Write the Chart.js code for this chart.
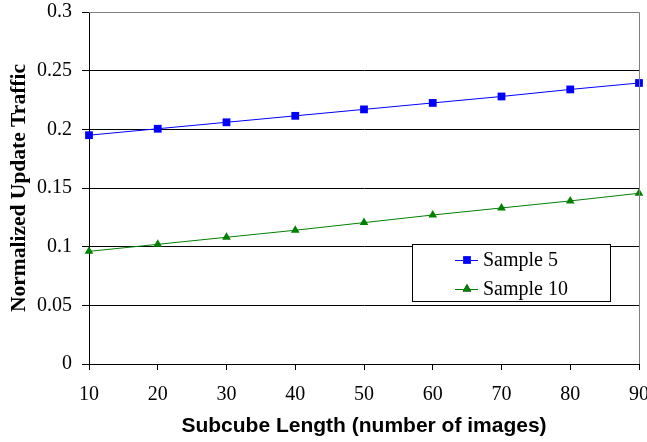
<!DOCTYPE html>
<html>
<head>
<meta charset="utf-8">
<script src="https://cdn.jsdelivr.net/npm/chart.js@4.4.0/dist/chart.umd.min.js"></script>
<style>
  body { margin: 0; background: #fff; }
  #wrap { width: 647px; height: 442px; }
</style>
</head>
<body>
<div id="wrap"><canvas id="grafico" width="647" height="442"></canvas></div>
<script>
// Datos
const subcubeLength = [10, 20, 30, 40, 50, 60, 70, 80, 90];
const sample5 = [0.195, 0.2005, 0.206, 0.2115, 0.217, 0.2225, 0.228, 0.234, 0.2395];
const sample10 = [0.096, 0.102, 0.108, 0.114, 0.1205, 0.127, 0.133, 0.139, 0.1455];
const seriesLabels = ['Sample 5', 'Sample 10'];

const serif = '"Liberation Serif", "Times New Roman", serif';
const sans = '"Liberation Sans", Arial, sans-serif';

// Borde gris arriba y a la derecha + leyenda dentro del area
const marcoYLeyenda = {
    id: 'marcoYLeyenda',
    afterDraw(chart) {
        const ctx = chart.ctx;
        const a = chart.chartArea;
        ctx.save();
        ctx.strokeStyle = '#808080';
        ctx.lineWidth = 1;
        ctx.beginPath();
        ctx.moveTo(a.left, a.top + 0.5);
        ctx.lineTo(a.right + 0.5, a.top + 0.5);
        ctx.lineTo(a.right + 0.5, a.bottom);
        ctx.stroke();

        // leyenda
        const bx = a.right - 227, by = 244, bw = 198, bh = 57;
        ctx.fillStyle = '#fff';
        ctx.fillRect(bx, by, bw, bh);
        ctx.strokeStyle = '#000';
        ctx.strokeRect(bx + 0.5, by + 0.5, bw, bh);
        ctx.font = '20px ' + serif;
        ctx.textBaseline = 'middle';
        chart.data.datasets.forEach((ds, i) => {
            const y = by + 16 + i * 29;
            ctx.strokeStyle = ds.borderColor;
            ctx.beginPath();
            ctx.moveTo(bx + 43, y + 0.5);
            ctx.lineTo(bx + 66, y + 0.5);
            ctx.stroke();
            Chart.helpers.drawPoint(ctx, {
                pointStyle: ds.pointStyle,
                radius: ds.pointRadius,
                borderWidth: 0
            }, bx + 55, y);
            ctx.fillStyle = ds.pointBackgroundColor;
            ctx.fill();
            ctx.fillStyle = '#000';
            ctx.fillText(ds.label, bx + 71, y + 1);
        });
        ctx.restore();
    }
};

const ctx = document.getElementById('grafico').getContext('2d');
new Chart(ctx, {
    type: 'line',
    data: {
        labels: subcubeLength,
        datasets: [{
            label: seriesLabels[0],
            data: subcubeLength.map((x, i) => ({ x: x, y: sample5[i] })),
            borderColor: '#0000ff',
            backgroundColor: '#0000ff',
            pointBackgroundColor: '#0000ff',
            pointBorderWidth: 0,
            borderWidth: 1,
            pointStyle: 'rect',
            pointRadius: 5.5,
            clip: false
        }, {
            label: seriesLabels[1],
            data: subcubeLength.map((x, i) => ({ x: x, y: sample10[i] })),
            borderColor: '#008000',
            backgroundColor: '#008000',
            pointBackgroundColor: '#008000',
            pointBorderWidth: 0,
            borderWidth: 1,
            pointStyle: 'triangle',
            pointRadius: 5,
            clip: false
        }]
    },
    options: {
        responsive: false,
        animation: false,
        layout: { padding: { top: 12, right: 8, left: 0, bottom: 0 } },
        plugins: {
            legend: { display: false },
            tooltip: { enabled: false }
        },
        scales: {
            x: {
                type: 'linear',
                min: 10,
                max: 90,
                afterFit(scale) {
                    scale.height = 78;
                    scale.paddingLeft = 0;
                    scale.paddingRight = 0;
                },
                ticks: {
                    stepSize: 10,
                    color: '#000',
                    padding: 13,
                    maxRotation: 0,
                    font: { family: serif, size: 20 }
                },
                grid: {
                    drawOnChartArea: false,
                    drawTicks: true,
                    tickLength: 6,
                    color: '#000'
                },
                border: { color: '#000', width: 1 },
                title: {
                    display: true,
                    text: 'Subcube Length (number of images)',
                    color: '#000',
                    padding: { top: 4, bottom: 3 },
                    font: { family: sans, size: 21, weight: 'bold' }
                }
            },
            y: {
                min: 0,
                max: 0.3,
                afterFit(scale) {
                    scale.width = 89;
                    scale.paddingTop = 0;
                    scale.paddingBottom = 0;
                },
                ticks: {
                    stepSize: 0.05,
                    color: '#000',
                    padding: 10,
                    font: { family: serif, size: 20 },
                    callback: v => String(Number(v.toFixed(2)))
                },
                grid: {
                    color: c => (c.tick && c.tick.value >= 0.3 ? '#808080' : '#000'),
                    tickColor: '#000',
                    tickLength: 7
                },
                border: { color: '#000', width: 1 },
                title: {
                    display: true,
                    text: 'Normalized Update Traffic',
                    color: '#000',
                    padding: { top: 7, bottom: 0 },
                    font: { family: serif, size: 21.5, weight: 'bold' }
                }
            }
        }
    },
    plugins: [marcoYLeyenda]
});
</script>
</body>
</html>
